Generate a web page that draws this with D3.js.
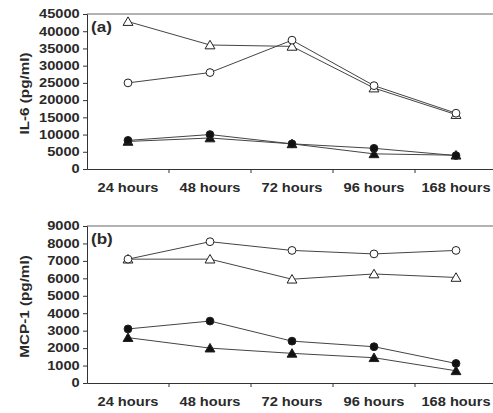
<!DOCTYPE html>
<html>
<head>
<meta charset="utf-8">
<script src="https://cdn.jsdelivr.net/npm/d3@7"></script>
<style>
  body { margin: 0; background: #fff; }
  svg { font-family: "Liberation Sans", Arial, sans-serif; }
  .tick text { font-size: 12px; font-weight: bold; fill: #2a2a2a; }
</style>
</head>
<body>
<svg width="493" height="413"></svg>
<script>
const categories = ["24 hours", "48 hours", "72  hours", "96 hours", "168 hours"]

// panel (a) IL-6
const il6OpenTri    = [42800, 36000, 35600, 23500, 15800]
const il6OpenCirc   = [25000, 28000, 37400, 24200, 16200]
const il6FilledCirc = [8300, 10000, 7300, 6000, 3900]
const il6FilledTri  = [8000, 9000, 7300, 4400, 4000]
const il6Ticks      = [0, 5000, 10000, 15000, 20000, 25000, 30000, 35000, 40000, 45000]

// panel (b) MCP-1
const mcpOpenCirc   = [7100, 8100, 7600, 7400, 7600]
const mcpOpenTri    = [7100, 7100, 5950, 6250, 6050]
const mcpFilledCirc = [3100, 3550, 2400, 2080, 1120]
const mcpFilledTri  = [2600, 2000, 1700, 1450, 700]
const mcpTicks      = [0, 1000, 2000, 3000, 4000, 5000, 6000, 7000, 8000, 9000]

const svg = d3.select("svg")
const INK = "#333"
const STRETCH = 1.22   // scanned labels are wide

function drawPanel(cfg) {
  const x = d3.scaleBand().domain(categories).range([cfg.left, cfg.left + 410])
  const y = d3.scaleLinear().domain([0, cfg.max]).range([cfg.bottom, cfg.top])
  const g = svg.append("g")

  // top frame line
  g.append("line")
    .attr("x1", cfg.left).attr("x2", 493)
    .attr("y1", cfg.top).attr("y2", cfg.top)
    .attr("stroke", "#666").attr("stroke-width", 1)

  const yAxis = g.append("g")
    .attr("transform", `translate(${cfg.left},0)`)
    .call(d3.axisLeft(y).tickValues(cfg.ticks).tickSize(4).tickPadding(2).tickFormat(d3.format("d")))
  yAxis.select(".domain").attr("stroke", INK)
  yAxis.selectAll(".tick line").attr("stroke", INK)
  yAxis.selectAll(".tick text").attr("transform", `scale(${STRETCH},1)`)

  const xAxis = g.append("g")
    .attr("transform", `translate(0,${cfg.bottom})`)
    .call(d3.axisBottom(x).tickSize(0).tickPadding(14))
  xAxis.select(".domain").attr("stroke", INK)
  xAxis.selectAll(".tick text").style("font-size", "12px")
    .attr("transform", `scale(${STRETCH},1)`)
  // category boundary ticks
  g.selectAll("line.sep").data(categories.slice(1)).join("line")
    .attr("class", "sep")
    .attr("x1", d => x(d)).attr("x2", d => x(d))
    .attr("y1", cfg.bottom).attr("y2", cfg.bottom + 4)
    .attr("stroke", INK)

  g.append("text")
    .attr("transform", `translate(29,${(cfg.top + cfg.bottom) / 2 + 2}) rotate(-90) scale(${STRETCH},1)`)
    .attr("text-anchor", "middle")
    .style("font-size", "12.5px").style("font-weight", "bold").attr("fill", "#2a2a2a")
    .text(cfg.title)

  g.append("text")
    .attr("transform", `translate(${cfg.left + 4},${cfg.top + 18}) scale(${STRETCH},1)`)
    .style("font-size", "14px").style("font-weight", "bold").attr("fill", "#2a2a2a")
    .text(cfg.label)

  const line = d3.line()
    .x((d, i) => x(categories[i]) + x.bandwidth() / 2)
    .y(d => y(d))

  const tri = d3.symbol().type(d3.symbolTriangle).size(42)
  const circ = d3.symbol().type(d3.symbolCircle).size(48)

  cfg.series.forEach(s => {
    g.append("path").datum(s.values)
      .attr("d", line).attr("fill", "none")
      .attr("stroke", "#444").attr("stroke-width", 1)
  })
  cfg.series.forEach(s => {
    g.selectAll(null).data(s.values).join("path")
      .attr("transform", (d, i) => `translate(${x(categories[i]) + x.bandwidth() / 2},${y(d) + (s.shape === "tri" ? 1 : 0)})`)
      .attr("d", s.shape === "tri" ? tri : circ)
      .attr("fill", s.filled ? "#111" : "#fff")
      .attr("stroke", "#222").attr("stroke-width", 1)
  })
}

drawPanel({
  top: 14, bottom: 169, left: 87, max: 45000, ticks: il6Ticks,
  title: "IL-6 (pg/ml)", label: "(a)",
  series: [
    { values: il6FilledTri, shape: "tri", filled: true },
    { values: il6FilledCirc, shape: "circ", filled: true },
    { values: il6OpenTri, shape: "tri", filled: false },
    { values: il6OpenCirc, shape: "circ", filled: false }
  ]
})

drawPanel({
  top: 226, bottom: 383, left: 87, max: 9000, ticks: mcpTicks,
  title: "MCP-1 (pg/ml)", label: "(b)",
  series: [
    { values: mcpFilledTri, shape: "tri", filled: true },
    { values: mcpFilledCirc, shape: "circ", filled: true },
    { values: mcpOpenTri, shape: "tri", filled: false },
    { values: mcpOpenCirc, shape: "circ", filled: false }
  ]
})
</script>
</body>
</html>
